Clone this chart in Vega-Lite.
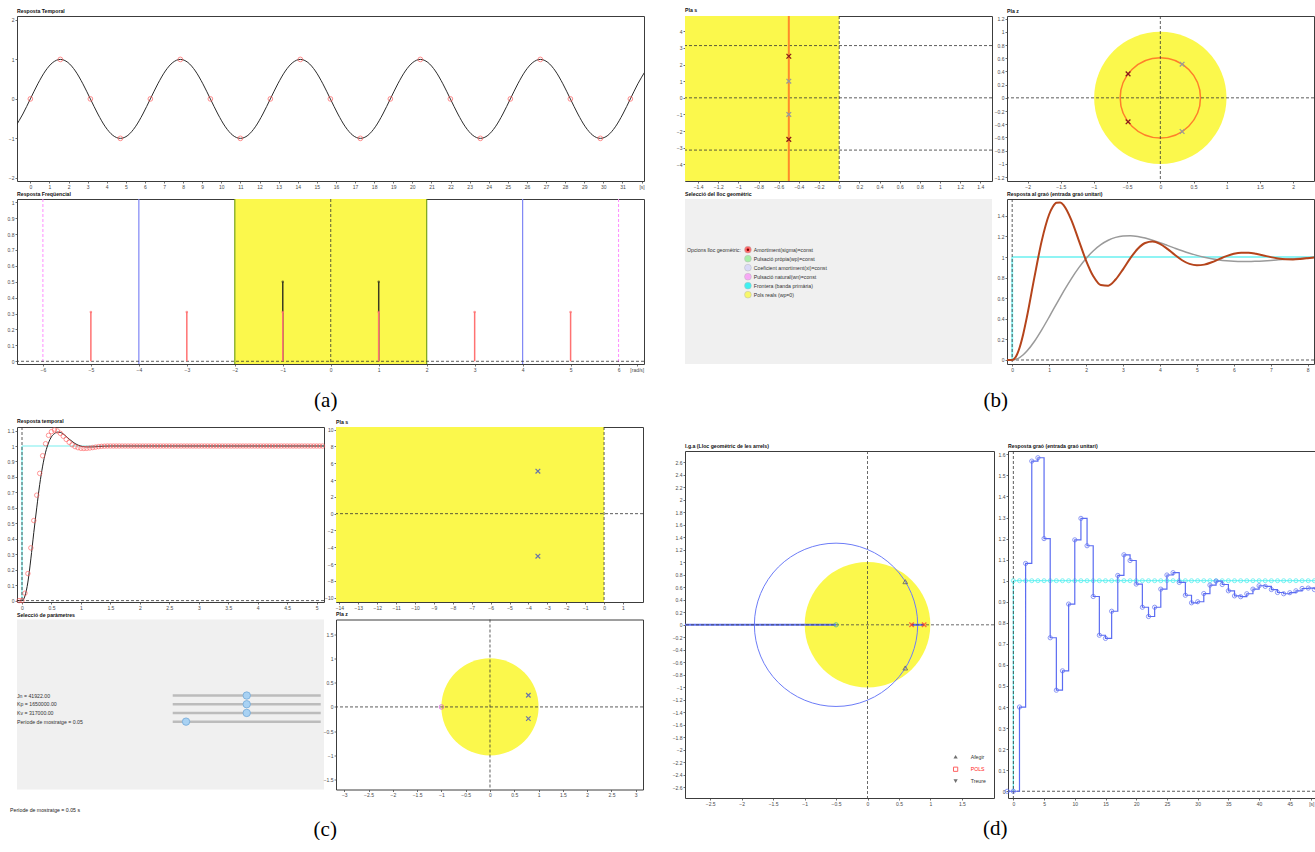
{
"$schema":"https://vega.github.io/schema/vega-lite/v6.json",
"background":"white",
"padding":{"left":6,"top":7,"right":0,"bottom":0},
"datasets":{
"sine":[{"t":-0.7854,"y":-0.7071},{"t":-0.3927,"y":-0.3827},{"t":0,"y":0,"s":1},{"t":0.3927,"y":0.3827},{"t":0.7854,"y":0.7071},{"t":1.1781,"y":0.9239},{"t":1.5708,"y":1,"s":1},{"t":1.9635,"y":0.9239},{"t":2.3562,"y":0.7071},{"t":2.7489,"y":0.3827},{"t":3.1416,"y":0,"s":1},{"t":3.5343,"y":-0.3827},{"t":3.927,"y":-0.7071},{"t":4.3197,"y":-0.9239},{"t":4.7124,"y":-1,"s":1},{"t":5.1051,"y":-0.9239},{"t":5.4978,"y":-0.7071},{"t":5.8905,"y":-0.3827},{"t":6.2832,"y":0,"s":1},{"t":6.6759,"y":0.3827},{"t":7.0686,"y":0.7071},{"t":7.4613,"y":0.9239},{"t":7.854,"y":1,"s":1},{"t":8.2467,"y":0.9239},{"t":8.6394,"y":0.7071},{"t":9.0321,"y":0.3827},{"t":9.4248,"y":0,"s":1},{"t":9.8175,"y":-0.3827},{"t":10.2102,"y":-0.7071},{"t":10.6029,"y":-0.9239},{"t":10.9956,"y":-1,"s":1},{"t":11.3883,"y":-0.9239},{"t":11.781,"y":-0.7071},{"t":12.1737,"y":-0.3827},{"t":12.5664,"y":0,"s":1},{"t":12.9591,"y":0.3827},{"t":13.3518,"y":0.7071},{"t":13.7445,"y":0.9239},{"t":14.1372,"y":1,"s":1},{"t":14.5299,"y":0.9239},{"t":14.9226,"y":0.7071},{"t":15.3153,"y":0.3827},{"t":15.708,"y":0,"s":1},{"t":16.1007,"y":-0.3827},{"t":16.4934,"y":-0.7071},{"t":16.8861,"y":-0.9239},{"t":17.2788,"y":-1,"s":1},{"t":17.6715,"y":-0.9239},{"t":18.0642,"y":-0.7071},{"t":18.4569,"y":-0.3827},{"t":18.8496,"y":0,"s":1},{"t":19.2423,"y":0.3827},{"t":19.635,"y":0.7071},{"t":20.0277,"y":0.9239},{"t":20.4204,"y":1,"s":1},{"t":20.8131,"y":0.9239},{"t":21.2058,"y":0.7071},{"t":21.5985,"y":0.3827},{"t":21.9911,"y":0,"s":1},{"t":22.3838,"y":-0.3827},{"t":22.7765,"y":-0.7071},{"t":23.1692,"y":-0.9239},{"t":23.5619,"y":-1,"s":1},{"t":23.9546,"y":-0.9239},{"t":24.3473,"y":-0.7071},{"t":24.74,"y":-0.3827},{"t":25.1327,"y":0,"s":1},{"t":25.5254,"y":0.3827},{"t":25.9181,"y":0.7071},{"t":26.3108,"y":0.9239},{"t":26.7035,"y":1,"s":1},{"t":27.0962,"y":0.9239},{"t":27.4889,"y":0.7071},{"t":27.8816,"y":0.3827},{"t":28.2743,"y":0,"s":1},{"t":28.667,"y":-0.3827},{"t":29.0597,"y":-0.7071},{"t":29.4524,"y":-0.9239},{"t":29.8451,"y":-1,"s":1},{"t":30.2378,"y":-0.9239},{"t":30.6305,"y":-0.7071},{"t":31.0232,"y":-0.3827},{"t":31.4159,"y":0,"s":1},{"t":31.8086,"y":0.3827},{"t":32.2013,"y":0.7071}],
"bstep":[{"t":-0.15,"b":0,"g":0},{"t":0,"b":0,"g":0},{"t":0.1,"b":0.0313,"g":0.0061},{"t":0.2,"b":0.1192,"g":0.0233},{"t":0.3,"b":0.2529,"g":0.0506},{"t":0.4,"b":0.4199,"g":0.0865},{"t":0.6,"b":0.7998,"g":0.1795},{"t":0.8,"b":1.157,"g":0.2926},{"t":1,"b":1.4133,"g":0.4171},{"t":1.1,"b":1.4892,"g":0.4813},{"t":1.2,"b":1.5278,"g":0.5454},{"t":1.3,"b":1.5302,"g":0.6089},{"t":1.4,"b":1.4999,"g":0.6709},{"t":1.6,"b":1.3617,"g":0.7886},{"t":1.8,"b":1.1652,"g":0.8944},{"t":2,"b":0.9662,"g":0.9858},{"t":2.2,"b":0.811,"g":1.0613},{"t":2.4,"b":0.7276,"g":1.1204},{"t":2.6,"b":0.7222,"g":1.1633},{"t":2.8,"b":0.7817,"g":1.191},{"t":3,"b":0.8808,"g":1.2051},{"t":3.2,"b":0.9894,"g":1.2075},{"t":3.4,"b":1.0808,"g":1.2},{"t":3.6,"b":1.137,"g":1.1848},{"t":3.8,"b":1.1514,"g":1.1641},{"t":4,"b":1.1283,"g":1.1396},{"t":4.2,"b":1.0798,"g":1.1134},{"t":4.4,"b":1.0217,"g":1.0868},{"t":4.6,"b":0.9691,"g":1.0611},{"t":4.8,"b":0.9332,"g":1.0372},{"t":5,"b":0.9192,"g":1.0161},{"t":5.2,"b":0.9263,"g":0.998},{"t":5.4,"b":0.9492,"g":0.9833},{"t":5.6,"b":0.9796,"g":0.972},{"t":5.8,"b":1.0092,"g":0.9641},{"t":6,"b":1.0314,"g":0.9591},{"t":6.2,"b":1.0422,"g":0.957},{"t":6.4,"b":1.0414,"g":0.9571},{"t":6.6,"b":1.0312,"g":0.9592},{"t":6.8,"b":1.0156,"g":0.9627},{"t":7,"b":0.9993,"g":0.9673},{"t":7.2,"b":0.9861,"g":0.9726},{"t":7.4,"b":0.9785,"g":0.9781},{"t":7.6,"b":0.9772,"g":0.9835},{"t":7.8,"b":0.9815,"g":0.9888},{"t":8,"b":0.9892,"g":0.9936},{"t":8.2,"b":0.998,"g":0.9979}],
"ctime":[{"t":-0.1,"y":0},{"t":0,"y":0},{"t":0.05,"y":0.03},{"t":0.1,"y":0.12},{"t":0.15,"y":0.27},{"t":0.2,"y":0.44},{"t":0.25,"y":0.6},{"t":0.3,"y":0.75},{"t":0.35,"y":0.87},{"t":0.4,"y":0.96},{"t":0.45,"y":1.02},{"t":0.5,"y":1.06},{"t":0.55,"y":1.08},{"t":0.6,"y":1.09},{"t":0.65,"y":1.088},{"t":0.7,"y":1.078},{"t":0.75,"y":1.062},{"t":0.8,"y":1.045},{"t":0.85,"y":1.03},{"t":0.9,"y":1.016},{"t":0.95,"y":1.006},{"t":1,"y":0.999},{"t":1.1,"y":0.994},{"t":1.2,"y":0.994},{"t":1.3,"y":0.997},{"t":1.4,"y":0.999},{"t":1.5,"y":1},{"t":5.2,"y":1}],
"csamp":[{"t":-0.05,"y":0},{"t":0,"y":0},{"t":0.05,"y":0.048},{"t":0.1,"y":0.175},{"t":0.15,"y":0.341},{"t":0.2,"y":0.518},{"t":0.25,"y":0.682},{"t":0.3,"y":0.823},{"t":0.35,"y":0.937},{"t":0.4,"y":1.015},{"t":0.45,"y":1.069},{"t":0.5,"y":1.093},{"t":0.55,"y":1.104},{"t":0.6,"y":1.097},{"t":0.65,"y":1.082},{"t":0.7,"y":1.063},{"t":0.75,"y":1.043},{"t":0.8,"y":1.024},{"t":0.85,"y":1.008},{"t":0.9,"y":0.996},{"t":0.95,"y":0.989},{"t":1,"y":0.985},{"t":1.05,"y":0.984},{"t":1.1,"y":0.985},{"t":1.15,"y":0.987},{"t":1.2,"y":0.99},{"t":1.25,"y":0.993},{"t":1.3,"y":0.996},{"t":1.35,"y":0.998},{"t":1.4,"y":0.999},{"t":1.45,"y":1},{"t":1.5,"y":1},{"t":1.55,"y":1},{"t":1.6,"y":1},{"t":1.65,"y":1},{"t":1.7,"y":1},{"t":1.75,"y":1},{"t":1.8,"y":1},{"t":1.85,"y":1},{"t":1.9,"y":1},{"t":1.95,"y":1},{"t":2,"y":1},{"t":2.05,"y":1},{"t":2.1,"y":1},{"t":2.15,"y":1},{"t":2.2,"y":1},{"t":2.25,"y":1},{"t":2.3,"y":1},{"t":2.35,"y":1},{"t":2.4,"y":1},{"t":2.45,"y":1},{"t":2.5,"y":1},{"t":2.55,"y":1},{"t":2.6,"y":1},{"t":2.65,"y":1},{"t":2.7,"y":1},{"t":2.75,"y":1},{"t":2.8,"y":1},{"t":2.85,"y":1},{"t":2.9,"y":1},{"t":2.95,"y":1},{"t":3,"y":1},{"t":3.05,"y":1},{"t":3.1,"y":1},{"t":3.15,"y":1},{"t":3.2,"y":1},{"t":3.25,"y":1},{"t":3.3,"y":1},{"t":3.35,"y":1},{"t":3.4,"y":1},{"t":3.45,"y":1},{"t":3.5,"y":1},{"t":3.55,"y":1},{"t":3.6,"y":1},{"t":3.65,"y":1},{"t":3.7,"y":1},{"t":3.75,"y":1},{"t":3.8,"y":1},{"t":3.85,"y":1},{"t":3.9,"y":1},{"t":3.95,"y":1},{"t":4,"y":1},{"t":4.05,"y":1},{"t":4.1,"y":1},{"t":4.15,"y":1},{"t":4.2,"y":1},{"t":4.25,"y":1},{"t":4.3,"y":1},{"t":4.35,"y":1},{"t":4.4,"y":1},{"t":4.45,"y":1},{"t":4.5,"y":1},{"t":4.55,"y":1},{"t":4.6,"y":1},{"t":4.65,"y":1},{"t":4.7,"y":1},{"t":4.75,"y":1},{"t":4.8,"y":1},{"t":4.85,"y":1},{"t":4.9,"y":1},{"t":4.95,"y":1},{"t":5,"y":1},{"t":5.05,"y":1},{"t":5.1,"y":1}],
"dstep":[{"k":-1,"y":0},{"k":0,"y":0},{"k":1,"y":0.4},{"k":2,"y":1.082},{"k":3,"y":1.568},{"k":4,"y":1.584},{"k":5,"y":1.2},{"k":6,"y":0.729},{"k":7,"y":0.48},{"k":8,"y":0.572},{"k":9,"y":0.889},{"k":10,"y":1.194},{"k":11,"y":1.296},{"k":12,"y":1.166},{"k":13,"y":0.925},{"k":14,"y":0.741},{"k":15,"y":0.726},{"k":16,"y":0.855},{"k":17,"y":1.025},{"k":18,"y":1.123},{"k":19,"y":1.096},{"k":20,"y":0.984},{"k":21,"y":0.874},{"k":22,"y":0.83},{"k":23,"y":0.874},{"k":24,"y":0.96},{"k":25,"y":1.027},{"k":26,"y":1.038},{"k":27,"y":0.992},{"k":28,"y":0.931},{"k":29,"y":0.895},{"k":30,"y":0.9},{"k":31,"y":0.939},{"k":32,"y":0.979},{"k":33,"y":0.998},{"k":34,"y":0.982},{"k":35,"y":0.952},{"k":36,"y":0.928},{"k":37,"y":0.924},{"k":38,"y":0.938},{"k":39,"y":0.96},{"k":40,"y":0.976},{"k":41,"y":0.973},{"k":42,"y":0.958},{"k":43,"y":0.944},{"k":44,"y":0.938},{"k":45,"y":0.943},{"k":46,"y":0.952},{"k":47,"y":0.963},{"k":48,"y":0.965},{"k":49,"y":0.958}]
},
"hconcat":[
{"vconcat":[
 {"title":{"text":"(a)","orient":"bottom","anchor":"middle","frame":"bounds","font":"Liberation Serif","fontSize":21,"fontWeight":"normal","color":"#000000","offset":17},
  "spacing":1,
  "vconcat":[
  {"title":"Resposta Temporal","width":627,"height":165,
   "data":{"name":"sine"},
   "encoding":{
    "x":{"field":"t","type":"quantitative","scale":{"domain":[-0.7,32.13],"nice":false,"zero":false},"axis":{"title":null,"tickCount":200,"values":[0,1,2,3,4,5,6,7,8,9,10,11,12,13,14,15,16,17,18,19,20,21,22,23,24,25,26,27,28,29,30,31,32],"labelExpr":"datum.value == 32 ? '[s]' : datum.label"}},
    "y":{"field":"y","type":"quantitative","scale":{"domain":[-2.08,2.1],"nice":false,"zero":false},"axis":{"title":null,"tickCount":200,"values":[-2,-1,0,1,2]}}},
   "layer":[
    {"mark":{"type":"line","color":"#2b2b2b","strokeWidth":1,"interpolate":"monotone","clip":true}},
    {"transform":[{"filter":"datum.s == 1"}],"mark":{"type":"point","shape":"circle","color":"#ff5c5c","size":22,"strokeWidth":1}}
   ]},
  {"title":"Resposta Freqüencial","width":627,"height":165,
   "layer":[
    {"data":{"values":[{"lo":-2,"hi":2}]},"mark":{"type":"rect","color":"#fbf84c"},
     "encoding":{"x":{"field":"lo","type":"quantitative","scale":{"domain":[-6.54,6.53],"nice":false,"zero":false},"axis":{"title":null,"tickCount":200,"values":[-6,-5,-4,-3,-2,-1,0,1,2,3,4,5,6,6.38],"labelExpr":"datum.value == 6.38 ? '[rad/s]' : datum.label"}},"x2":{"field":"hi"}}},
    {"data":{"values":[{"f":-2},{"f":2}]},"mark":{"type":"rule","color":"#78a418","strokeWidth":1.2},"encoding":{"x":{"field":"f","type":"quantitative"}}},
    {"data":{"values":[{"f":-4},{"f":4}]},"mark":{"type":"rule","color":"#7f86f5","strokeWidth":1.2},"encoding":{"x":{"field":"f","type":"quantitative"}}},
    {"data":{"values":[{"f":-6},{"f":6}]},"mark":{"type":"rule","color":"#ff8cff","strokeWidth":1,"strokeDash":[3,2]},"encoding":{"x":{"field":"f","type":"quantitative"}}},
    {"data":{"values":[{"f":0}]},"mark":{"type":"rule","color":"#333333","strokeWidth":0.8,"strokeDash":[3,2]},"encoding":{"x":{"field":"f","type":"quantitative"}}},
    {"data":{"values":[{"h":0}]},"mark":{"type":"rule","color":"#333333","strokeWidth":0.8,"strokeDash":[3,2]},"encoding":{"y":{"field":"h","type":"quantitative","scale":{"domain":[-0.017,1.02],"nice":false,"zero":false},"axis":{"title":null,"tickCount":200,"values":[0,0.1,0.2,0.3,0.4,0.5,0.6,0.7,0.8,0.9,1]}}}},
    {"data":{"values":[{"f":-1,"a":0.5,"z":0},{"f":1,"a":0.5,"z":0}]},"mark":{"type":"rule","color":"#3a3a20","strokeWidth":1.5},"encoding":{"x":{"field":"f","type":"quantitative"},"y":{"field":"a","type":"quantitative"},"y2":{"field":"z"}}},
    {"data":{"values":[{"f":-1,"a":0.5},{"f":1,"a":0.5}]},"mark":{"type":"point","shape":"circle","filled":true,"color":"#3a3a20","size":6},"encoding":{"x":{"field":"f","type":"quantitative"},"y":{"field":"a","type":"quantitative"}}},
    {"data":{"values":[{"f":-5,"a":0.31,"z":0},{"f":-3,"a":0.31,"z":0},{"f":-1,"a":0.31,"z":0},{"f":1,"a":0.31,"z":0},{"f":3,"a":0.31,"z":0},{"f":5,"a":0.31,"z":0}]},"mark":{"type":"rule","color":"#ff7272","strokeWidth":1.5},"encoding":{"x":{"field":"f","type":"quantitative"},"y":{"field":"a","type":"quantitative"},"y2":{"field":"z"}}},
    {"data":{"values":[{"f":-5,"a":0.31},{"f":-3,"a":0.31},{"f":-1,"a":0.31},{"f":1,"a":0.31},{"f":3,"a":0.31},{"f":5,"a":0.31}]},"mark":{"type":"point","shape":"circle","filled":true,"color":"#ff7272","size":7},"encoding":{"x":{"field":"f","type":"quantitative"},"y":{"field":"a","type":"quantitative"}}}
   ]}
 ]},
 {"title":{"text":"(c)","orient":"bottom","anchor":"middle","frame":"bounds","font":"Liberation Serif","fontSize":21,"fontWeight":"normal","color":"#000000","offset":5},
  "spacing":0.5,
  "vconcat":[
  {"hconcat":[
   {"title":"Resposta temporal","width":307,"height":175,
    "layer":[
     {"data":{"values":[{"t":0,"u0":0,"u1":1}]},"mark":{"type":"rule","color":"#79eeee","strokeWidth":1.2},"encoding":{"x":{"field":"t","type":"quantitative"},"y":{"field":"u1","type":"quantitative"},"y2":{"field":"u0"}}},
     {"data":{"values":[{"u":1,"t0":0,"t1":5.125}]},"mark":{"type":"rule","color":"#79eeee","strokeWidth":1.2},"encoding":{"y":{"field":"u","type":"quantitative"},"x":{"field":"t0","type":"quantitative"},"x2":{"field":"t1"}}},
     {"data":{"values":[{"t":0}]},"mark":{"type":"rule","color":"#333333","strokeWidth":0.8,"strokeDash":[3,2]},"encoding":{"x":{"field":"t","type":"quantitative"}}},
     {"data":{"values":[{"u":0}]},"mark":{"type":"rule","color":"#333333","strokeWidth":0.8,"strokeDash":[3,2]},"encoding":{"y":{"field":"u","type":"quantitative"}}},
     {"data":{"name":"ctime"},"mark":{"type":"line","color":"#222222","strokeWidth":1,"interpolate":"monotone","clip":true},
      "encoding":{"x":{"field":"t","type":"quantitative","scale":{"domain":[-0.085,5.125],"nice":false,"zero":false},"axis":{"title":null,"tickCount":200,"values":[0,0.5,1,1.5,2,2.5,3,3.5,4,4.5,5]}},
       "y":{"field":"y","type":"quantitative","scale":{"domain":[-0.009,1.123],"nice":false,"zero":false},"axis":{"title":null,"tickCount":200,"values":[0,0.1,0.2,0.3,0.4,0.5,0.6,0.7,0.8,0.9,1,1.1]}}}},
     {"data":{"name":"csamp"},"mark":{"type":"point","shape":"circle","color":"#ff5a5a","size":20,"strokeWidth":0.9},"encoding":{"x":{"field":"t","type":"quantitative"},"y":{"field":"y","type":"quantitative"}}}
    ]},
   {"title":"Pla s","width":307,"height":175,
    "layer":[
     {"data":{"values":[{"lo":-15,"hi":0}]},"mark":{"type":"rect","color":"#fbf84c","clip":true},
      "encoding":{"x":{"field":"lo","type":"quantitative","scale":{"domain":[-14.18,2.06],"nice":false,"zero":false},"axis":{"title":null,"tickCount":200,"values":[-14,-13,-12,-11,-10,-9,-8,-7,-6,-5,-4,-3,-2,-1,0,1]}},"x2":{"field":"hi"}}},
     {"data":{"values":[{"re":0}]},"mark":{"type":"rule","color":"#333333","strokeWidth":0.8,"strokeDash":[3,2]},"encoding":{"x":{"field":"re","type":"quantitative"}}},
     {"data":{"values":[{"im":0}]},"mark":{"type":"rule","color":"#333333","strokeWidth":0.8,"strokeDash":[3,2]},"encoding":{"y":{"field":"im","type":"quantitative","scale":{"domain":[-10.5,10.3],"nice":false,"zero":false},"axis":{"title":null,"tickCount":200,"values":[-10,-8,-6,-4,-2,0,2,4,6,8,10]}}}},
     {"data":{"values":[{"re":-3.5,"im":5.05},{"re":-3.5,"im":-5.05}]},"mark":{"type":"point","shape":"M -1 -1 L 1 1 M -1 1 L 1 -1","color":"#2d3fd0","size":22,"strokeWidth":1.2},"encoding":{"x":{"field":"re","type":"quantitative"},"y":{"field":"im","type":"quantitative"}}}
    ]}
  ],"spacing":12,"bounds":"flush"},
  {"hconcat":[
   {"title":"Selecció de paràmetres","width":307,"height":170,
    "view":{"fill":"#f0f0f0","stroke":null},
    "data":{"values":[{"r":1,"lab":"Jn = 41922.00","pos":0.5,"lo":0,"hi":1},{"r":2,"lab":"Kp = 1650000.00","pos":0.5,"lo":0,"hi":1},{"r":3,"lab":"Kv = 317000.00","pos":0.5,"lo":0,"hi":1},{"r":4,"lab":"Període de mostratge = 0.05","pos":0.09,"lo":0,"hi":1}]},
    "layer":[
     {"mark":{"type":"rule","color":"#bcbcbc","strokeWidth":2.5},
      "encoding":{"x":{"field":"lo","type":"quantitative","scale":{"domain":[-1.052,1.022],"nice":false,"zero":false},"axis":null},"x2":{"field":"hi"},
       "y":{"field":"r","type":"quantitative","scale":{"domain":[-7.74,11.8],"nice":false,"zero":false,"reverse":true},"axis":null}}},
     {"mark":{"type":"point","shape":"circle","filled":true,"fill":"#a9d2f3","stroke":"#74a9d8","strokeWidth":0.8,"size":55,"opacity":1},"encoding":{"x":{"field":"pos","type":"quantitative"},"y":{"field":"r","type":"quantitative"}}},
     {"mark":{"type":"text","align":"left","baseline":"middle","fontSize":5.2,"color":"#333333"},"encoding":{"x":{"datum":-1.052},"y":{"field":"r","type":"quantitative"},"text":{"field":"lab"}}},
     {"data":{"values":[{"lab":"Període de mostratge = 0.05 s"}]},"mark":{"type":"text","align":"left","baseline":"middle","fontSize":5.2,"color":"#222222"},"encoding":{"x":{"datum":-1.099},"y":{"datum":14.2},"text":{"field":"lab"}}}
    ]},
   {"title":"Pla z","width":307,"height":170,
    "layer":[
     {"data":{"values":[{"re":0,"im":0}]},"mark":{"type":"point","shape":"circle","filled":true,"color":"#fbf84c","opacity":1,"size":9448},
      "encoding":{"x":{"field":"re","type":"quantitative","scale":{"domain":[-3.17,3.15],"nice":false,"zero":false},"axis":{"title":null,"tickCount":200,"values":[-3,-2.5,-2,-1.5,-1,-0.5,0,0.5,1,1.5,2,2.5,3]}},
       "y":{"field":"im","type":"quantitative","scale":{"domain":[-1.7,1.8],"nice":false,"zero":false},"axis":{"title":null,"tickCount":200,"values":[-1.5,-1,-0.5,0,0.5,1,1.5]}}}},
     {"data":{"values":[{"re":0}]},"mark":{"type":"rule","color":"#333333","strokeWidth":0.8,"strokeDash":[3,2]},"encoding":{"x":{"field":"re","type":"quantitative"}}},
     {"data":{"values":[{"im":0}]},"mark":{"type":"rule","color":"#333333","strokeWidth":0.8,"strokeDash":[3,2]},"encoding":{"y":{"field":"im","type":"quantitative"}}},
     {"data":{"values":[{"re":0.79,"im":0.24},{"re":0.79,"im":-0.24}]},"mark":{"type":"point","shape":"M -1 -1 L 1 1 M -1 1 L 1 -1","color":"#2d3fd0","size":20,"strokeWidth":1.2},"encoding":{"x":{"field":"re","type":"quantitative"},"y":{"field":"im","type":"quantitative"}}},
     {"data":{"values":[{"re":-1,"im":0}]},"mark":{"type":"point","shape":"circle","color":"#d048d0","size":20,"strokeWidth":1},"encoding":{"x":{"field":"re","type":"quantitative"},"y":{"field":"im","type":"quantitative"}}}
    ]}
  ],"spacing":12,"bounds":"flush"}
 ]}
],"spacing":7},
{"vconcat":[
 {"title":{"text":"(b)","orient":"bottom","anchor":"middle","frame":"bounds","font":"Liberation Serif","fontSize":21,"fontWeight":"normal","color":"#000000","offset":17},
  "spacing":1,
  "vconcat":[
  {"hconcat":[
   {"title":"Pla s","width":307,"height":165,
    "layer":[
     {"data":{"values":[{"lo":-1.6,"hi":0}]},"mark":{"type":"rect","color":"#fbf84c","clip":true},
      "encoding":{"x":{"field":"lo","type":"quantitative","scale":{"domain":[-1.53,1.516],"nice":false,"zero":false},"axis":{"title":null,"tickCount":200,"values":[-1.4,-1.2,-1,-0.8,-0.6,-0.4,-0.2,0,0.2,0.4,0.6,0.8,1,1.2,1.4]}},"x2":{"field":"hi"}}},
     {"data":{"values":[{"re":0}]},"mark":{"type":"rule","color":"#333333","strokeWidth":0.8,"strokeDash":[3,2]},"encoding":{"x":{"field":"re","type":"quantitative"}}},
     {"data":{"values":[{"h":-3.1416},{"h":0},{"h":3.1416}]},"mark":{"type":"rule","color":"#333333","strokeWidth":0.8,"strokeDash":[3,2]},"encoding":{"y":{"field":"h","type":"quantitative","scale":{"domain":[-5,4.92],"nice":false,"zero":false},"axis":{"title":null,"tickCount":200,"values":[-4,-3,-2,-1,0,1,2,3,4]}}}},
     {"data":{"values":[{"re":-0.5}]},"mark":{"type":"rule","color":"#ff8a2a","strokeWidth":2},"encoding":{"x":{"field":"re","type":"quantitative"}}},
     {"data":{"values":[{"re":-0.5,"im":2.5},{"re":-0.5,"im":-2.5}]},"mark":{"type":"point","shape":"M -1 -1 L 1 1 M -1 1 L 1 -1","color":"#8b1a1a","size":22,"strokeWidth":1.3,"opacity":1},"encoding":{"x":{"field":"re","type":"quantitative"},"y":{"field":"im","type":"quantitative"}}},
     {"data":{"values":[{"re":-0.5,"im":1},{"re":-0.5,"im":-1}]},"mark":{"type":"point","shape":"M -1 -1 L 1 1 M -1 1 L 1 -1","color":"#9a9a9a","size":22,"strokeWidth":1.3,"opacity":1},"encoding":{"x":{"field":"re","type":"quantitative"},"y":{"field":"im","type":"quantitative"}}}
    ]},
   {"title":"Pla z","width":307,"height":165,
    "layer":[
     {"data":{"values":[{"re":0,"im":0}]},"mark":{"type":"point","shape":"circle","filled":true,"color":"#fbf84c","opacity":1,"size":17530},
      "encoding":{"x":{"field":"re","type":"quantitative","scale":{"domain":[-2.31,2.315],"nice":false,"zero":false},"axis":{"title":null,"tickCount":200,"values":[-2,-1.5,-1,-0.5,0,0.5,1,1.5,2]}},
       "y":{"field":"im","type":"quantitative","scale":{"domain":[-1.26,1.24],"nice":false,"zero":false},"axis":{"title":null,"tickCount":200,"values":[-1.2,-1,-0.8,-0.6,-0.4,-0.2,0,0.2,0.4,0.6,0.8,1,1.2]}}}},
     {"data":{"values":[{"re":0,"im":0}]},"mark":{"type":"point","shape":"circle","filled":false,"color":"#ff7f2a","strokeWidth":1.5,"opacity":1,"size":6448},"encoding":{"x":{"field":"re","type":"quantitative"},"y":{"field":"im","type":"quantitative"}}},
     {"data":{"values":[{"re":0}]},"mark":{"type":"rule","color":"#333333","strokeWidth":0.8,"strokeDash":[3,2]},"encoding":{"x":{"field":"re","type":"quantitative"}}},
     {"data":{"values":[{"im":0}]},"mark":{"type":"rule","color":"#333333","strokeWidth":0.8,"strokeDash":[3,2]},"encoding":{"y":{"field":"im","type":"quantitative"}}},
     {"data":{"values":[{"re":-0.486,"im":0.363},{"re":-0.486,"im":-0.363}]},"mark":{"type":"point","shape":"M -1 -1 L 1 1 M -1 1 L 1 -1","color":"#8b1a1a","size":22,"strokeWidth":1.3,"opacity":1},"encoding":{"x":{"field":"re","type":"quantitative"},"y":{"field":"im","type":"quantitative"}}},
     {"data":{"values":[{"re":0.328,"im":0.51},{"re":0.328,"im":-0.51}]},"mark":{"type":"point","shape":"M -1 -1 L 1 1 M -1 1 L 1 -1","color":"#9a9a9a","size":22,"strokeWidth":1.3,"opacity":1},"encoding":{"x":{"field":"re","type":"quantitative"},"y":{"field":"im","type":"quantitative"}}}
    ]}
  ],"spacing":15,"bounds":"flush"},
  {"hconcat":[
   {"title":"Selecció del lloc geomètric","width":307,"height":165,
    "view":{"fill":"#f0f0f0","stroke":null},
    "data":{"values":[{"r":1,"lab":"Amortiment(sigma)=const"},{"r":2,"lab":"Pulsació pròpia(wp)=const"},{"r":3,"lab":"Coeficient amortiment(xi)=const"},{"r":4,"lab":"Pulsació natural(wn)=const"},{"r":5,"lab":"Frontera (banda primària)"},{"r":6,"lab":"Pols reals (wp=0)"}]},
    "layer":[
     {"mark":{"type":"text","align":"left","baseline":"middle","fontSize":5.2,"color":"#333333"},
      "encoding":{"x":{"datum":22.4,"type":"quantitative","scale":{"domain":[0,100],"nice":false,"zero":false},"axis":null},
       "y":{"field":"r","type":"quantitative","scale":{"domain":[-4.63,13.7],"nice":false,"zero":false,"reverse":true},"axis":null},
       "text":{"field":"lab"}}},
     {"mark":{"type":"point","shape":"circle","filled":true,"size":46,"stroke":"#b8b8b8","strokeWidth":0.5,"opacity":1},
      "encoding":{"x":{"datum":20.5},"y":{"field":"r","type":"quantitative"},
       "fill":{"field":"lab","type":"nominal","scale":{"domain":["Amortiment(sigma)=const","Pulsació pròpia(wp)=const","Coeficient amortiment(xi)=const","Pulsació natural(wn)=const","Frontera (banda primària)","Pols reals (wp=0)"],"range":["#ff6666","#a8eea8","#d9d9f7","#f7a8f5","#3ff0f0","#f7f76a"]},"legend":null}}},
     {"transform":[{"filter":"datum.r == 1"}],"mark":{"type":"point","shape":"circle","filled":true,"size":6,"color":"#7a0000","opacity":1},"encoding":{"x":{"datum":20.5},"y":{"field":"r","type":"quantitative"}}},
     {"data":{"values":[{"lab":"Opcions lloc geomètric:"}]},"mark":{"type":"text","align":"left","baseline":"middle","fontSize":5.2,"color":"#333333"},"encoding":{"x":{"datum":0.65},"y":{"datum":1},"text":{"field":"lab"}}}
    ]},
   {"title":"Resposta al graó (entrada graó unitari)","width":307,"height":165,
    "layer":[
     {"data":{"values":[{"t":0,"u0":0,"u1":1}]},"mark":{"type":"rule","color":"#8ff4f4","strokeWidth":2},"encoding":{"x":{"field":"t","type":"quantitative"},"y":{"field":"u1","type":"quantitative"},"y2":{"field":"u0"}}},
     {"data":{"values":[{"u":1,"t0":0,"t1":8.17}]},"mark":{"type":"rule","color":"#8ff4f4","strokeWidth":2},"encoding":{"y":{"field":"u","type":"quantitative"},"x":{"field":"t0","type":"quantitative"},"x2":{"field":"t1"}}},
     {"data":{"values":[{"t":0}]},"mark":{"type":"rule","color":"#333333","strokeWidth":0.8,"strokeDash":[3,2]},"encoding":{"x":{"field":"t","type":"quantitative"}}},
     {"data":{"values":[{"u":0}]},"mark":{"type":"rule","color":"#333333","strokeWidth":0.8,"strokeDash":[3,2]},"encoding":{"y":{"field":"u","type":"quantitative"}}},
     {"data":{"name":"bstep"},"mark":{"type":"line","color":"#9a9a9a","strokeWidth":1.5,"interpolate":"monotone","clip":true},
      "encoding":{"x":{"field":"t","type":"quantitative","scale":{"domain":[-0.14,8.17],"nice":false,"zero":false},"axis":{"title":null,"tickCount":200,"values":[0,1,2,3,4,5,6,7,8]}},
       "y":{"field":"g","type":"quantitative","scale":{"domain":[-0.039,1.564],"nice":false,"zero":false},"axis":{"title":null,"tickCount":200,"values":[0,0.2,0.4,0.6,0.8,1,1.2,1.4]}}}},
     {"data":{"name":"bstep"},"mark":{"type":"line","color":"#b5441b","strokeWidth":2,"interpolate":"monotone","clip":true},"encoding":{"x":{"field":"t","type":"quantitative"},"y":{"field":"b","type":"quantitative"}}}
    ]}
  ],"spacing":15,"bounds":"flush"}
 ]},
 {"title":{"text":"(d)","orient":"bottom","anchor":"middle","frame":"bounds","font":"Liberation Serif","fontSize":21,"fontWeight":"normal","color":"#000000","offset":11},
  "hconcat":[
   {"title":"l.g.a (Lloc geomètric de les arrels)","width":309,"height":347,
    "layer":[
     {"data":{"values":[{"re":0,"im":0}]},"mark":{"type":"point","shape":"circle","filled":true,"color":"#fbf84c","opacity":1,"size":15775},
      "encoding":{"x":{"field":"re","type":"quantitative","scale":{"domain":[-2.9,2.01],"nice":false,"zero":false},"axis":{"title":null,"tickCount":200,"values":[-2.5,-2,-1.5,-1,-0.5,0,0.5,1,1.5]}},
       "y":{"field":"im","type":"quantitative","scale":{"domain":[-2.77,2.78],"nice":false,"zero":false},"axis":{"title":null,"tickCount":200,"values":[-2.6,-2.4,-2.2,-2,-1.8,-1.6,-1.4,-1.2,-1,-0.8,-0.6,-0.4,-0.2,0,0.2,0.4,0.6,0.8,1,1.2,1.4,1.6,1.8,2,2.2,2.4,2.6]}}}},
     {"data":{"values":[{"re":-0.5,"im":0}]},"mark":{"type":"point","shape":"circle","filled":false,"color":"#6c7cf7","strokeWidth":1,"opacity":1,"size":26667},"encoding":{"x":{"field":"re","type":"quantitative"},"y":{"field":"im","type":"quantitative"}}},
     {"data":{"values":[{"re":0}]},"mark":{"type":"rule","color":"#444444","strokeWidth":0.8,"strokeDash":[3,2]},"encoding":{"x":{"field":"re","type":"quantitative"}}},
     {"data":{"values":[{"a":-2.9,"b":-0.5,"im":0},{"a":0.7,"b":0.9,"im":0}]},"mark":{"type":"rule","color":"#5d6ff5","strokeWidth":2},"encoding":{"x":{"field":"a","type":"quantitative"},"x2":{"field":"b"},"y":{"field":"im","type":"quantitative"}}},
     {"data":{"values":[{"im":0}]},"mark":{"type":"rule","color":"#444444","strokeWidth":0.8,"strokeDash":[3,2]},"encoding":{"y":{"field":"im","type":"quantitative"}}},
     {"data":{"values":[{"re":-0.5,"im":0}]},"mark":{"type":"point","shape":"circle","color":"#3aa89a","size":18,"strokeWidth":1},"encoding":{"x":{"field":"re","type":"quantitative"},"y":{"field":"im","type":"quantitative"}}},
     {"data":{"values":[{"re":0.7,"im":0},{"re":0.9,"im":0}]},"mark":{"type":"point","shape":"M -1 -1 L 1 1 M -1 1 L 1 -1","color":"#ff3030","size":20,"strokeWidth":1.3},"encoding":{"x":{"field":"re","type":"quantitative"},"y":{"field":"im","type":"quantitative"}}},
     {"data":{"values":[{"re":0.6,"im":0.69},{"re":0.6,"im":-0.69}]},"mark":{"type":"point","shape":"triangle-up","color":"#4a4a6a","size":22,"strokeWidth":1},"encoding":{"x":{"field":"re","type":"quantitative"},"y":{"field":"im","type":"quantitative"}}},
     {"data":{"values":[{"lab":"Afegir"}]},"mark":{"type":"point","shape":"triangle-up","filled":true,"color":"#333333","size":18},"encoding":{"x":{"datum":1.4},"y":{"datum":-2.11}}},
     {"data":{"values":[{"lab":"POLS"}]},"mark":{"type":"point","shape":"square","color":"#ff2020","size":18,"strokeWidth":1},"encoding":{"x":{"datum":1.4},"y":{"datum":-2.31}}},
     {"data":{"values":[{"lab":"Treure"}]},"mark":{"type":"point","shape":"triangle-down","filled":true,"color":"#333333","size":18},"encoding":{"x":{"datum":1.4},"y":{"datum":-2.5}}},
     {"data":{"values":[{"lab":"Afegir"}]},"mark":{"type":"text","align":"left","baseline":"middle","fontSize":5.2,"color":"#333333"},"encoding":{"x":{"datum":1.64},"y":{"datum":-2.11},"text":{"field":"lab"}}},
     {"data":{"values":[{"lab":"POLS"}]},"mark":{"type":"text","align":"left","baseline":"middle","fontSize":5.2,"color":"#ff2020"},"encoding":{"x":{"datum":1.64},"y":{"datum":-2.31},"text":{"field":"lab"}}},
     {"data":{"values":[{"lab":"Treure"}]},"mark":{"type":"text","align":"left","baseline":"middle","fontSize":5.2,"color":"#333333"},"encoding":{"x":{"datum":1.64},"y":{"datum":-2.5},"text":{"field":"lab"}}}
    ]},
   {"title":"Resposta graó (entrada graó unitari)","width":307,"height":347,
    "layer":[
     {"data":{"values":[{"k":0,"u0":0,"u1":1}]},"mark":{"type":"rule","color":"#5ff0f0","strokeWidth":1.2},"encoding":{"x":{"field":"k","type":"quantitative"},"y":{"field":"u1","type":"quantitative"},"y2":{"field":"u0"}}},
     {"data":{"values":[{"u":1,"k0":0,"k1":49.1}]},"mark":{"type":"rule","color":"#5ff0f0","strokeWidth":1},"encoding":{"y":{"field":"u","type":"quantitative"},"x":{"field":"k0","type":"quantitative"},"x2":{"field":"k1"}}},
     {"data":{"values":[{"k":0}]},"mark":{"type":"rule","color":"#333333","strokeWidth":0.8,"strokeDash":[3,2]},"encoding":{"x":{"field":"k","type":"quantitative"}}},
     {"data":{"values":[{"u":0}]},"mark":{"type":"rule","color":"#333333","strokeWidth":0.8,"strokeDash":[3,2]},"encoding":{"y":{"field":"u","type":"quantitative"}}},
     {"data":{"name":"dstep"},"transform":[{"filter":"datum.k >= 0"}],"mark":{"type":"point","shape":"circle","color":"#3ff0f0","size":16,"strokeWidth":1},"encoding":{"x":{"field":"k","type":"quantitative"},"y":{"datum":1}}},
     {"data":{"name":"dstep"},"mark":{"type":"line","color":"#5b6cf2","strokeWidth":1.2,"interpolate":"step-after","clip":true},
      "encoding":{"x":{"field":"k","type":"quantitative","scale":{"domain":[-0.87,49.1],"nice":false,"zero":false},"axis":{"title":null,"tickCount":200,"values":[0,5,10,15,20,25,30,35,40,45,48.5],"labelExpr":"datum.value == 48.5 ? '[s]' : datum.label"}},
       "y":{"field":"y","type":"quantitative","scale":{"domain":[-0.032,1.616],"nice":false,"zero":false},"axis":{"title":null,"tickCount":200,"values":[0,0.1,0.2,0.3,0.4,0.5,0.6,0.7,0.8,0.9,1,1.1,1.2,1.3,1.4,1.5,1.6]}}}},
     {"data":{"name":"dstep"},"mark":{"type":"point","shape":"circle","color":"#5b6cf2","size":18,"strokeWidth":1},"encoding":{"x":{"field":"k","type":"quantitative"},"y":{"field":"y","type":"quantitative"}}}
    ]}
  ],"spacing":14,"bounds":"flush"}
],"spacing":32}
],
"spacing":26,
"config":{
 "font":"Liberation Sans",
 "numberFormat":"~g",
 "view":{"stroke":"#3c3c3c","strokeWidth":1},
 "axis":{"labelFontSize":5,"labelColor":"#4a4a4a","tickColor":"#4a4a4a","tickSize":2,"tickWidth":0.8,"labelPadding":1,"domain":false,"grid":false,"labelOverlap":false,"labelFlush":false,"labelFont":"Liberation Sans"},
 "title":{"fontSize":5.2,"fontWeight":"bold","anchor":"start","frame":"group","offset":1.5,"color":"#111111","font":"Liberation Sans"}
}
}
